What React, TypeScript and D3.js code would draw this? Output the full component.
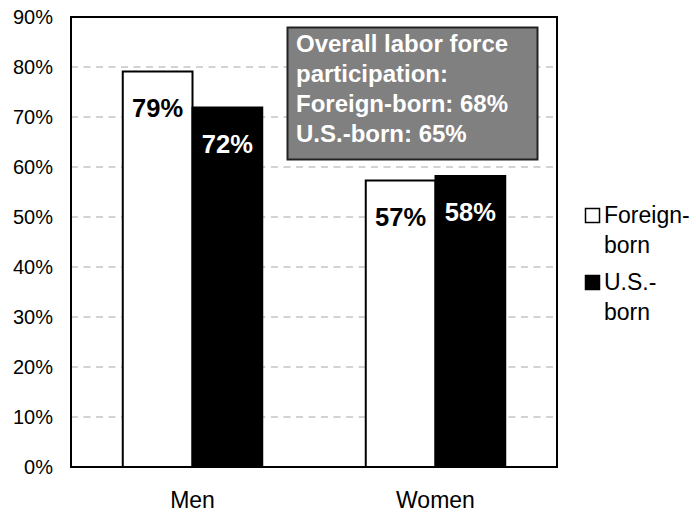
import React from "react";
import * as d3 from "d3";

const categories = ["Men", "Women"];
const seriesNames = ["Foreign-born", "U.S.-born"];
const foreignBorn = [79.1, 57.3];
const usBorn = [71.9, 58.2];
const yTicks = [0, 10, 20, 30, 40, 50, 60, 70, 80, 90];
const noteLines = [
  "Overall labor force",
  "participation:",
  "Foreign-born: 68%",
  "U.S.-born: 65%",
];
const legendLines = [["Foreign-", "born"], ["U.S.-", "born"]];
const seriesFill = ["#ffffff", "#000000"];
const labelFill = ["#000000", "#ffffff"];

const W = 696;
const H = 514;
const FONT = "'Liberation Sans', Arial, Helvetica, sans-serif";

export default function App() {
  const plot = { left: 71, right: 557, top: 17, bottom: 467 };
  const x = d3
    .scaleBand<string>()
    .domain(categories)
    .range([plot.left, plot.right])
    .paddingInner(0.426)
    .paddingOuter(0.213);
  const xs = d3
    .scaleBand<string>()
    .domain(seriesNames)
    .range([0, x.bandwidth()])
    .padding(0);
  const y = d3.scaleLinear().domain([0, 90]).range([plot.bottom, plot.top]);
  const values = [foreignBorn, usBorn];
  const fmt = (v: number) => d3.format(".0f")(v) + "%";

  return (
    <svg
      width={W}
      height={H}
      style={{ position: "absolute", left: 0, top: 0, background: "#fff" }}
      fontFamily={FONT}
    >
      <rect x={0} y={0} width={W} height={H} fill="#fff" />
      {/* gridlines */}
      {yTicks
        .filter((t) => t > 0 && t < 90)
        .map((t) => (
          <line
            key={"g" + t}
            x1={plot.left}
            x2={plot.right}
            y1={y(t)}
            y2={y(t)}
            stroke="#a6a6a6"
            strokeWidth={1}
            strokeDasharray="7,5.5"
          />
        ))}
      {/* tick labels */}
      {yTicks.map((t) => (
        <text
          key={"t" + t}
          x={53}
          y={y(t) + 7}
          textAnchor="end"
          fontSize={20}
          fill="#000"
        >
          {t + "%"}
        </text>
      ))}
      {/* annotation box */}
      <rect
        x={287.5}
        y={27.5}
        width={250}
        height={132}
        fill="#808080"
        stroke="#222"
        strokeWidth={2}
      />
      {noteLines.map((l, i) => (
        <text
          key={"n" + i}
          x={296}
          y={52 + i * 30}
          fontSize={24}
          fontWeight="bold"
          fill="#fff"
        >
          {l}
        </text>
      ))}
      {/* bars */}
      {categories.map((c, ci) =>
        seriesNames.map((s, si) => {
          const v = values[si][ci];
          const bx = (x(c) as number) + (xs(s) as number);
          return (
            <g key={c + s}>
              <rect
                x={bx}
                y={y(v)}
                width={xs.bandwidth()}
                height={y(0) - y(v)}
                fill={seriesFill[si]}
                stroke="#000"
                strokeWidth={2}
              />
              <text
                x={bx + xs.bandwidth() / 2}
                y={y(v) + 45}
                textAnchor="middle"
                fontSize={25.5}
                fontWeight="bold"
                fill={labelFill[si]}
              >
                {fmt(v)}
              </text>
            </g>
          );
        })
      )}
      {/* plot border */}
      <rect
        x={plot.left}
        y={plot.top}
        width={plot.right - plot.left}
        height={plot.bottom - plot.top}
        fill="none"
        stroke="#000"
        strokeWidth={2}
      />
      {/* category labels */}
      {categories.map((c) => (
        <text
          key={"c" + c}
          x={(x(c) as number) + x.bandwidth() / 2}
          y={508}
          textAnchor="middle"
          fontSize={23}
          fill="#000"
        >
          {c}
        </text>
      ))}
      {/* legend */}
      {seriesNames.map((s, si) => {
        const top = 208 + si * 67;
        return (
          <g key={"l" + s}>
            <rect
              x={585.5}
              y={top + 0.5}
              width={14}
              height={14}
              fill={seriesFill[si]}
              stroke="#000"
              strokeWidth={1.5}
            />
            {legendLines[si].map((l, li) => (
              <text
                key={li}
                x={604}
                y={top + 15 + li * 29.5}
                fontSize={23}
                fill="#000"
              >
                {l}
              </text>
            ))}
          </g>
        );
      })}
    </svg>
  );
}
